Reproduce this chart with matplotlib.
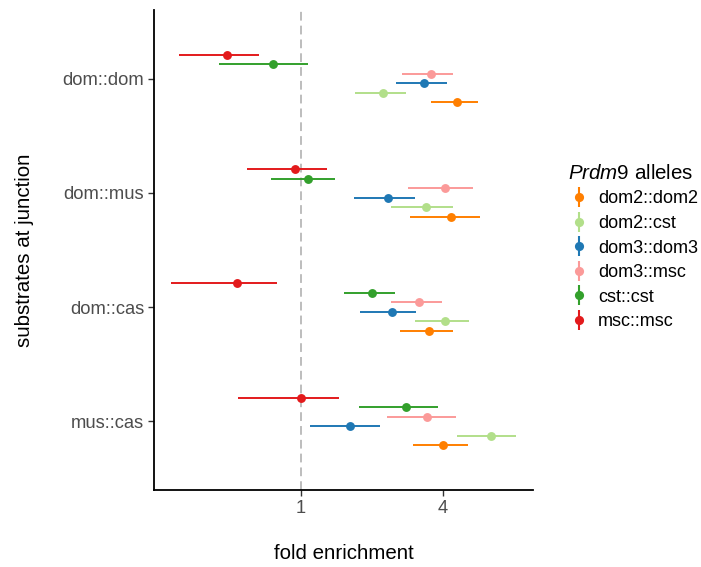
import matplotlib
matplotlib.use("Agg")
import matplotlib.pyplot as plt
import numpy as np
from matplotlib.lines import Line2D
from matplotlib.legend_handler import HandlerTuple

plt.rcParams["font.family"] = ["Liberation Sans", "DejaVu Sans"]
plt.rcParams["mathtext.fontset"] = "custom"
plt.rcParams["mathtext.rm"] = "Liberation Sans"
plt.rcParams["mathtext.it"] = "Liberation Sans:italic"

# Junction substrate categories (top to bottom)
substrates = ["dom::dom", "dom::mus", "dom::cas", "mus::cas"]

# Prdm9 allele series (legend order)
alleles = ["dom2::dom2", "dom2::cst", "dom3::dom3", "dom3::msc", "cst::cst", "msc::msc"]
colors = ["#FF7F00", "#B2DF8A", "#1F78B4", "#FB9A99", "#33A02C", "#E31A1C"]

# Fold enrichment estimates and interval bounds, per allele, per substrate
est = {
    "dom2::dom2": [4.60, 4.34, 3.51, 4.01],
    "dom2::cst":  [2.24, 3.40, 4.09, 6.39],
    "dom3::dom3": [3.33, 2.35, 2.43, 1.62],
    "dom3::msc":  [3.56, 4.09, 3.17, 3.42],
    "cst::cst":   [0.761, 1.071, 2.006, 2.79],
    "msc::msc":   [0.486, 0.940, 0.535, 1.00],
}
low = {
    "dom2::dom2": [3.58, 2.91, 2.63, 2.98],
    "dom2::cst":  [1.69, 2.415, 3.06, 4.60],
    "dom3::dom3": [2.53, 1.673, 1.774, 1.095],
    "dom3::msc":  [2.69, 2.85, 2.41, 2.32],
    "cst::cst":   [0.448, 0.748, 1.522, 1.767],
    "msc::msc":   [0.305, 0.592, 0.282, 0.542],
}
high = {
    "dom2::dom2": [5.63, 5.76, 4.40, 5.09],
    "dom2::cst":  [2.79, 4.40, 5.16, 8.21],
    "dom3::dom3": [4.15, 3.04, 3.08, 2.16],
    "dom3::msc":  [4.42, 5.36, 3.95, 4.54],
    "cst::cst":   [1.067, 1.390, 2.50, 3.82],
    "msc::msc":   [0.666, 1.289, 0.789, 1.453],
}

fig = plt.figure(figsize=(7.01, 5.67), dpi=100)
ax = fig.add_axes([0.2197, 0.1358, 0.5406, 0.8466])

ax.set_xscale("log", base=2)
ax.axvline(1, color="#bdbdbd", lw=1.4, ls=(0, (4.5, 2.6)), zorder=1)

n = len(alleles)
dodge = 0.5 / n
ypos_base = np.arange(len(substrates))[::-1] + 1  # dom::dom at top
for i, a in enumerate(alleles):
    off = -0.25 + dodge * (i + 0.5)
    y = ypos_base + off
    e = np.array(est[a])
    lo = np.array(low[a])
    hi = np.array(high[a])
    ax.hlines(y, lo, hi, color=colors[i], lw=1.4, zorder=2)
    ax.plot(e, y, "o", color=colors[i], ms=6.4, mec="none", zorder=3)

ax.set_xlim(2 ** -2.07, 2 ** 3.27)
ax.set_ylim(0.4, 4.6)
ax.set_xticks([1, 4])
ax.set_xticklabels(["1", "4"])
ax.xaxis.set_minor_locator(matplotlib.ticker.NullLocator())
ax.set_yticks(ypos_base)
ax.set_yticklabels(substrates)

for s in ["top", "right"]:
    ax.spines[s].set_visible(False)
for s in ["left", "bottom"]:
    ax.spines[s].set_linewidth(1.3)
    ax.spines[s].set_color("black")
ax.tick_params(axis="both", length=4, width=1.0, color="#333333",
               labelcolor="#4d4d4d", labelsize=13.2, pad=3)

ax.set_xlabel("fold enrichment", fontsize=14.8, color="black")
ax.set_ylabel("substrates at junction", fontsize=14.8, color="black")
ax.xaxis.set_label_coords(0.5, -0.112)
ax.yaxis.set_label_coords(-0.318, 0.5)

handles = []
for i, a in enumerate(alleles):
    vline = Line2D([], [], ls="none", marker="|", ms=14, mew=1.5, color=colors[i])
    dot = Line2D([], [], ls="none", marker="o", ms=6.6, mec="none", color=colors[i])
    handles.append((vline, dot))

leg = fig.legend(handles, alleles, handler_map={tuple: HandlerTuple(ndivide=1)},
                 loc="upper left", bbox_to_anchor=(0.800, 0.7237), frameon=False,
                 title=r"$\mathit{Prdm9}$ alleles", title_fontsize=14.8,
                 fontsize=13, handlelength=1.22, handletextpad=0.44,
                 labelspacing=0.42, alignment="left", borderaxespad=0)

fig.savefig("out.png", dpi=100)
